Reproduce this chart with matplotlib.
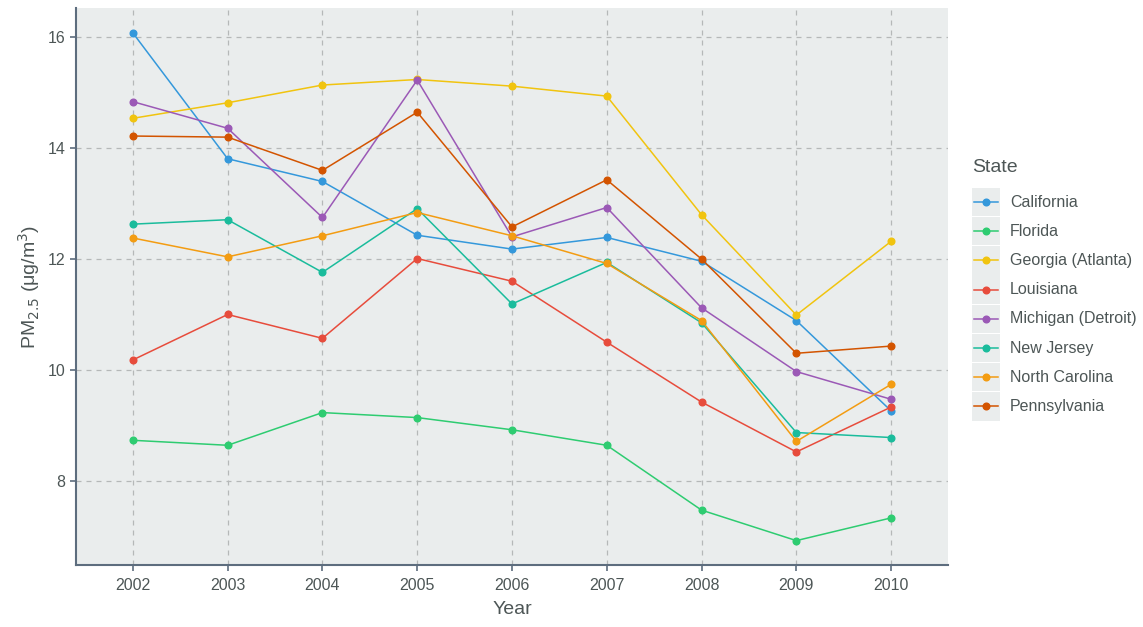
import numpy as np
import matplotlib
matplotlib.use('Agg')
import matplotlib.pyplot as plt
from matplotlib.lines import Line2D
from matplotlib.patches import Rectangle

# ==============================================================================
# Data
years = [2002, 2003, 2004, 2005, 2006, 2007, 2008, 2009, 2010]
states = ['California', 'Florida', 'Georgia (Atlanta)', 'Louisiana',
          'Michigan (Detroit)', 'New Jersey', 'North Carolina', 'Pennsylvania']

california = [16.08, 13.81, 13.40, 12.43, 12.18, 12.39, 11.96, 10.89, 9.26]
florida = [8.73, 8.64, 9.23, 9.14, 8.92, 8.64, 7.47, 6.92, 7.33]
georgia = [14.54, 14.82, 15.14, 15.24, 15.12, 14.94, 12.80, 10.99, 12.32]
louisiana = [10.18, 11.00, 10.57, 12.01, 11.60, 10.50, 9.42, 8.52, 9.33]
michigan = [14.84, 14.36, 12.75, 15.23, 12.40, 12.93, 11.12, 9.97, 9.47]
new_jersey = [12.63, 12.71, 11.76, 12.91, 11.19, 11.94, 10.85, 8.87, 8.78]
north_carolina = [12.38, 12.04, 12.42, 12.84, 12.42, 11.92, 10.89, 8.71, 9.74]
pennsylvania = [14.22, 14.20, 13.60, 14.65, 12.58, 13.43, 12.00, 10.30, 10.43]

series_list = [california, florida, georgia, louisiana,
               michigan, new_jersey, north_carolina, pennsylvania]
color_list = ['#3498DB', '#2ECC71', '#F1C40F', '#E74C3C',
              '#9B59B6', '#1ABC9C', '#F39C12', '#D35400']

# ==============================================================================
# Style
TXT = '#4D5656'
PANEL = '#EAEDED'
TS = 11.5   # tick size
LBF = 14    # label size
LGF = 11.5  # legend font
plt.rcParams['font.family'] = ['Liberation Sans', 'DejaVu Sans']

fig = plt.figure(figsize=(11.43, 6.27), dpi=100)
ax = fig.add_axes([76/1143, 1 - 565/627, (948 - 76)/1143, (565 - 8)/627])
ax.set_facecolor(PANEL)

for p, vals in enumerate(series_list):
    ax.plot(years, vals, color=color_list[p], lw=1.1, marker='o',
            markersize=4.8, label=states[p], zorder=3)

ax.set_xlim(2001.4, 2010.6)
ax.set_ylim(6.48, 16.53)
ax.set_xticks(years)
ax.set_yticks([8, 10, 12, 14, 16])
ax.grid(ls=(0, (4, 4)), lw=0.9, color='#B5B8B8', zorder=0)
ax.set_axisbelow(True)

for s in ['top', 'right']:
    ax.spines[s].set_visible(False)
for s in ['left', 'bottom']:
    ax.spines[s].set_color('#5D6D7E')
    ax.spines[s].set_linewidth(1.5)
ax.tick_params(which='major', labelsize=TS, colors='#5D6D7E',
               labelcolor=TXT, length=4, width=1.2)
ax.tick_params(axis='x', pad=5)

ax.set_xlabel('Year', fontsize=LBF, color=TXT, labelpad=6)
ax.set_ylabel(r'PM$_{2.5}$ ($\mathregular{\mu}$g/m$^3$)', fontsize=LBF,
              color=TXT, labelpad=4)

# ==============================================================================
# Legend drawn like ggplot keys (grey key boxes)
key_x0, key_w = 972/1143, 28/1143
row_h = 29.2/627
top_y = 1 - 202/627
fig.text(972/1143, 1 - 167/627, 'State', fontsize=LBF, color=TXT,
         va='center', ha='left')
for p, name in enumerate(states):
    yc = top_y - p*row_h
    fig.patches.append(Rectangle((key_x0, yc - row_h/2 + 0.5/627), key_w,
                                 row_h - 1/627, transform=fig.transFigure,
                                 facecolor=PANEL, edgecolor='none'))
    fig.lines.append(Line2D([key_x0 + 2/1143, key_x0 + key_w - 2/1143],
                            [yc, yc], transform=fig.transFigure,
                            color=color_list[p], lw=1.1))
    fig.lines.append(Line2D([key_x0 + key_w/2], [yc], transform=fig.transFigure,
                            color=color_list[p], marker='o', markersize=4.8))
    fig.text(1010/1143, yc, name, fontsize=LGF, color=TXT,
             va='center', ha='left')

fig.savefig('out.png', dpi=100)
